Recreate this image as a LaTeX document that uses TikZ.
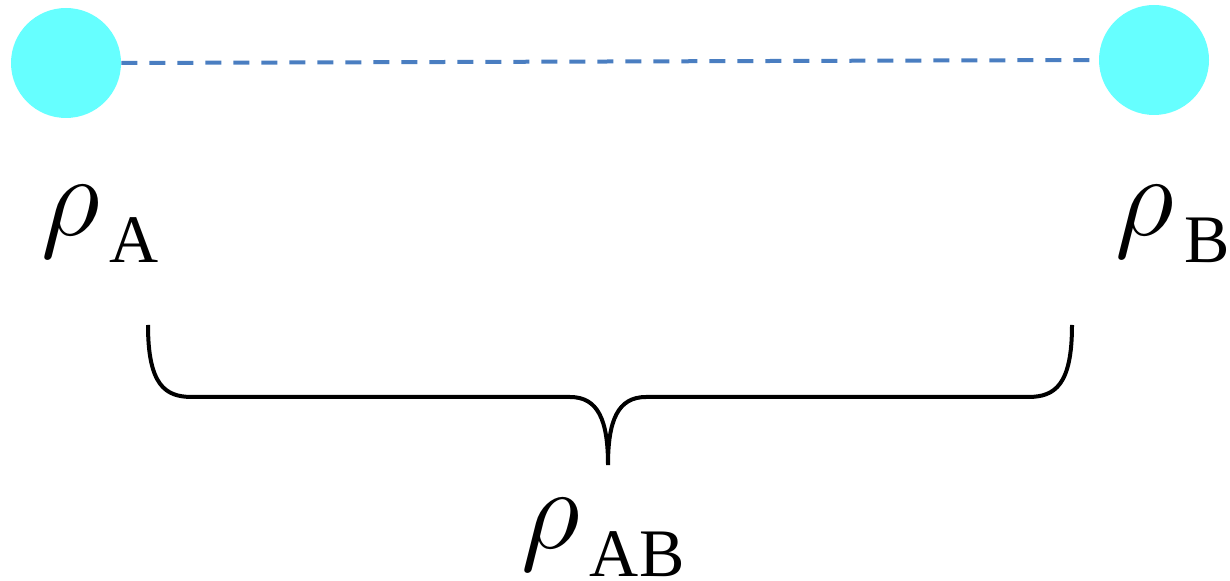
\RequirePackage{fix-cm}
\documentclass[tikz,border=0pt]{standalone}
\usepackage{fontspec}
\setmainfont{Liberation Serif}
\usetikzlibrary{positioning}
\definecolor{dotcyan}{RGB}{102,255,255}
\definecolor{linkblue}{RGB}{74,126,193}
\newcommand{\rholab}[1]{{\fontsize{58}{58}\selectfont$\rho$}\kern5pt\raisebox{-13.5pt}{\fontsize{34}{34}\selectfont #1}}

\begin{document}
\begin{tikzpicture}[
    x=0.5pt, y=-0.5pt,
    dot/.style={circle, fill=dotcyan, minimum size=55pt, inner sep=0pt},
    lab/.style={anchor=base west, inner sep=0pt},
    link/.style={linkblue, line width=2pt, dash pattern=on 8pt off 6pt},
    bracepath/.style={black, line width=2pt}
]
\useasboundingbox (0,0) rectangle (1230,581);

% Particles
\node[dot] (pA) at (66,63) {};
\node[dot] (pB) at (1154,60) {};
\draw[link] (pA.east) -- (pB.west);

% Labels
\node[lab] (rhoA) at (41,236) {\rholab{A}};
\node[lab] (rhoB) at (1115,236) {\rholab{B}};
\node[lab] (rhoAB) at (521,549) {\rholab{AB}};

% Brace
\coordinate (bl) at (148,325);
\coordinate (br) at (1072,325);
\coordinate (tip) at (608,465);
\draw[bracepath] (bl) .. controls (148,385) and (165,397) .. (192,397)
    -- (570,397) .. controls (598,397) and (608,420) .. (tip)
    .. controls (608,420) and (618,397) .. (646,397)
    -- (1028,397) .. controls (1055,397) and (1072,385) .. (br);
\end{tikzpicture}
\end{document}
